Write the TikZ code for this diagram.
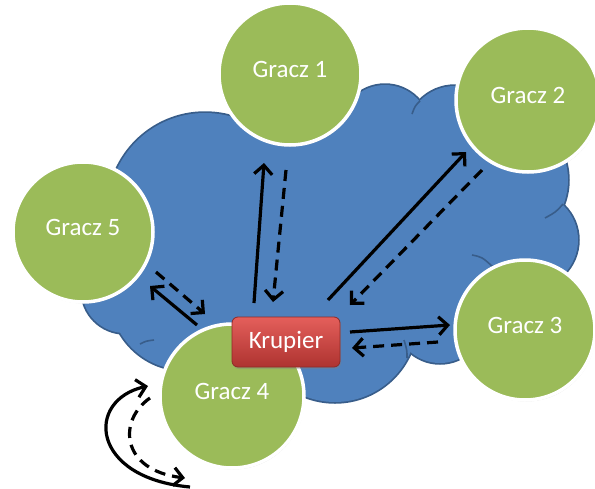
\documentclass[tikz,border=0pt]{standalone}
\usepackage{fontspec}
\setmainfont{Carlito}
\usetikzlibrary{arrows.meta,calc,shadows}
\definecolor{cloudblue}{HTML}{4F81BD}
\definecolor{cloudedge}{HTML}{385D8A}
\definecolor{playergreen}{HTML}{9BBB59}
\definecolor{boxtop}{HTML}{E45F5B}
\definecolor{boxbottom}{HTML}{AE3330}
\definecolor{boxedge}{HTML}{8E2A27}
\begin{document}
\begin{tikzpicture}[x=1pt,y=-1pt,
  player/.style={circle, draw=white, line width=3.5pt, fill=playergreen,
    minimum size=#1, inner sep=0pt,
    drop shadow={opacity=0.3, shadow xshift=0.8pt, shadow yshift=-1.5pt}},
  playertext/.style={text=white, font=\fontsize{25}{30}\selectfont, yshift=5pt},
  dealer/.style={rounded corners=6pt, draw=boxedge, line width=0.8pt,
    top color=boxtop, bottom color=boxbottom,
    minimum width=108pt, minimum height=50pt, inner sep=0pt,
    text=white, font=\fontsize{25}{30}\selectfont,
    drop shadow={opacity=0.35, shadow xshift=1pt, shadow yshift=-2pt}},
  crease/.style={draw=cloudedge, line width=1.6pt},
  solidarrow/.style={line width=3.2pt, -{Straight Barb[length=9pt,width=18pt]}},
  dasharrow/.style={solidarrow, dash pattern=on 11pt off 7pt},
]
\useasboundingbox (0,0) rectangle (595,488);

% cloud: outline of every lobe first, then all fills on top
\foreach \cx/\cy/\r in {205/210/97, 385/130/45, 455/135/49, 500/180/68,
    530/240/48, 440/318/45, 335/320/82, 185/295/75, 125/290/43}
  \draw[cloudedge, line width=3.5pt] (\cx,\cy) circle[radius=\r pt];
\foreach \cx/\cy/\r in {205/210/97, 385/130/45, 455/135/49, 500/180/68,
    530/240/48, 440/318/45, 335/320/82, 185/295/75, 125/290/43,
    340/240/120, 460/240/70, 290/180/60}
  \fill[cloudblue] (\cx,\cy) circle[radius=\r pt];
% folds inside the cloud
\draw[crease] (420,101) .. controls (415,106) .. (412,114);
\draw[crease] (563,204) .. controls (556,212) .. (545,218);
\draw[crease] (472,255) .. controls (482,257) .. (493,267);
\draw[crease] (404,340) .. controls (407,350) .. (407,358);
\draw[crease] (140,344) .. controls (146,341) .. (154,340);

% players
\node[player=142pt, label={[playertext]center:Gracz 1}] (g1) at (290,74) {};
\node[player=144pt, label={[playertext]center:Gracz 2}] (g2) at (528,100) {};
\node[player=140pt, label={[playertext]center:Gracz 3}] (g3) at (525,330) {};
\node[player=144pt, label={[playertext]center:Gracz 4}] (g4) at (232,396) {};
\node[player=140pt, label={[playertext]center:Gracz 5}] (g5) at (83,232) {};

% dealer
\node[dealer] (kr) at (286,342) {Krupier};

% dealer <-> players
\draw[solidarrow] ($(kr)+(-32,-39)$) -- ($(g1)+(-26,89)$);
\draw[dasharrow]  ($(g1)+(-4,96)$)   -- ($(kr)+(-13,-40)$);
\draw[solidarrow] ($(kr)+(42,-42)$)  -- ($(g2)+(-62,52)$);
\draw[dasharrow]  ($(g2)+(-46,70)$)  -- ($(kr)+(64,-37)$);
\draw[solidarrow] ($(kr)+(64,-10)$)  -- ($(g3)+(-75,-5)$);
\draw[dasharrow]  ($(g3)+(-87,12)$)  -- ($(kr)+(66,6)$);
\draw[solidarrow] ($(kr)+(-89,-17)$) -- ($(g5)+(67,54)$);
\draw[dasharrow]  ($(g5)+(73,40)$)   -- ($(kr)+(-81,-28)$);

% player 4 loops back to itself
\draw[solidarrow] ($(g4)+(-42,91)$) .. controls ($(g4)+(-142,82)$) and ($(g4)+(-147,4)$) .. ($(g4)+(-84,-10)$);
\draw[dasharrow]  ($(g4)+(-82,2)$) .. controls ($(g4)+(-114,24)$) and ($(g4)+(-112,74)$) .. ($(g4)+(-47,82)$);
\end{tikzpicture}
\end{document}
